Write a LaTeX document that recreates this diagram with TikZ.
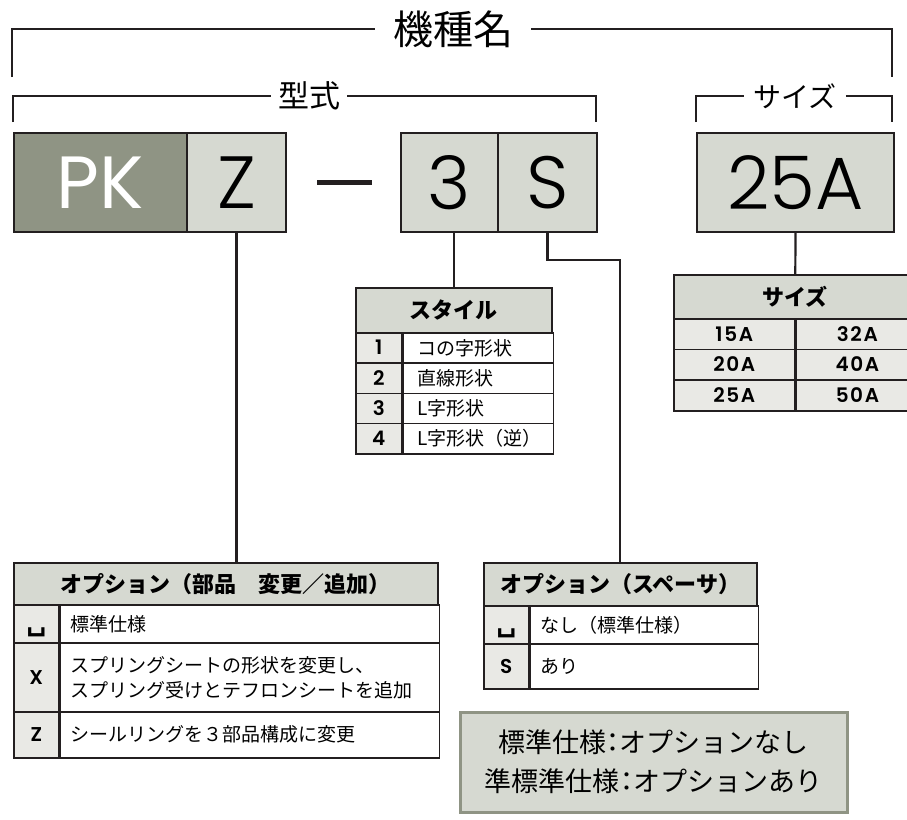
\documentclass[tikz,border=0pt]{standalone}
\usepackage{fontspec}
\usepackage{xcolor}
\setmainfont{Noto Sans CJK JP}
\newfontfamily\codefont{Poppins}[UprightFont=* Light]
\newfontfamily\keyfont{Poppins}[BoldFont=* SemiBold]
\newfontfamily\symfont{DejaVu Sans}
\newcommand{\halfcolon}{{\addfontfeature{RawFeature=+halt}：}}
\usetikzlibrary{positioning}

\definecolor{inkline}{HTML}{231F20}
\definecolor{darkbox}{HTML}{8F9484}
\definecolor{lightbox}{HTML}{D6D9D1}
\definecolor{keyfill}{HTML}{E9E9E5}

\begin{document}
\begin{tikzpicture}[x=1pt,y=-1pt,
	bracket/.style={draw=inkline,line width=1.6pt},
	link/.style={draw=inkline,line width=2.2pt},
	title/.style={inner xsep=#1,inner ysep=0pt},
	codebox/.style={draw=inkline,line width=2pt,rectangle,anchor=north west,minimum height=99pt,inner sep=0pt,font=\codefont\fontsize{74}{74}\selectfont},
	head/.style={draw=inkline,line width=1.6pt,rectangle,anchor=north west,fill=lightbox,inner sep=0pt,font=\bfseries\fontsize{22}{26}\selectfont},
	keycell/.style={draw=inkline,line width=1.6pt,rectangle,anchor=north west,fill=keyfill,inner sep=0pt,text height=14pt,text depth=0pt,font=\keyfont\bfseries\fontsize{20}{24}\selectfont},
	txtcell/.style={draw=inkline,line width=1.6pt,rectangle,fill=white,align=left,inner ysep=0pt,font=\fontsize{19}{25}\selectfont}]
		\useasboundingbox (0,0) rectangle (907,819);

		% draw brackets
		\node (kishu) at (453,29) [title=18pt,font=\fontsize{40}{46}\selectfont] {機種名};
		\coordinate (kishu-l) at (12,77);
		\coordinate (kishu-r) at (892,77);
		\draw[bracket] (kishu-l) |- (kishu.west);
		\draw[bracket] (kishu.east) -| (kishu-r);

		\node (keishiki) at (309,96) [title=7pt,font=\fontsize{31}{36}\selectfont] {型式};
		\coordinate (keishiki-l) at (13,122);
		\coordinate (keishiki-r) at (596,122);
		\draw[bracket] (keishiki-l) |- (keishiki.west);
		\draw[bracket] (keishiki.east) -| (keishiki-r);

		\node (saizu) at (795,96) [title=9pt,font=\fontsize{28}{32}\selectfont] {サイズ};
		\coordinate (saizu-l) at (696,122);
		\coordinate (saizu-r) at (892,122);
		\draw[bracket] (saizu-l) |- (saizu.west);
		\draw[bracket] (saizu.east) -| (saizu-r);

		% draw code boxes
		\node (pk) at (13,132) [codebox,fill=darkbox,minimum width=173pt,text=white,font=\keyfont\fontsize{74}{74}\selectfont] {PK};
		\node (z) at (186,132) [codebox,fill=lightbox,minimum width=99pt] {Z};
		\node (dash) at (344.5,182) [fill=inkline,minimum width=55pt,minimum height=5pt,inner sep=0pt] {};
		\node (n3) at (400,132) [codebox,fill=lightbox,minimum width=97pt] {3};
		\node (s) at (497,132) [codebox,fill=lightbox,minimum width=99pt] {S};
		\node (a25) at (696,132) [codebox,fill=lightbox,minimum width=197pt] {25A};

		% draw style table
		\node (st-h) at (355,287) [head,minimum width=196pt,minimum height=45pt] {スタイル};
		\foreach \n/\t [count=\i] in {1/コの字形状,2/直線形状,3/L字形状,4/L字形状（逆）}{
			\node (st-k\i) at (355,{332+30.25*(\i-1)}) [keycell,minimum width=46pt,minimum height=30.25pt] {\n};
			\node (st-t\i) [txtcell,right=0pt of st-k\i,text width=122pt,inner xsep=14pt,minimum height=30.25pt] {\t};
		}

		% draw size table
		\node (sz-h) at (673,274) [head,minimum width=243pt,minimum height=44pt] {サイズ};
		\foreach \a/\b [count=\i] in {15A/32A,20A/40A,25A/50A}{
			\node (sz-a\i) at (673,{318+30.67*(\i-1)}) [keycell,minimum width=121pt,minimum height=30.67pt] {\addfontfeature{LetterSpace=8}\a};
			\node (sz-b\i) [keycell,right=0pt of sz-a\i,minimum width=122pt,minimum height=30.67pt] {\addfontfeature{LetterSpace=8}\b};
		}

		% draw option table (parts)
		\node (o1-h) at (13,562) [head,minimum width=424pt,minimum height=42pt] {オプション（部品　変更／追加）};
		\node (o1-k1) at (13,604) [keycell,minimum width=45pt,minimum height=38pt] {\symfont\fontsize{28}{28}\selectfont ␣};
		\node (o1-t1) [txtcell,right=0pt of o1-k1,text width=359pt,inner xsep=10pt,minimum height=38pt] {標準仕様};
		\node (o1-k2) at (13,642) [keycell,minimum width=45pt,minimum height=69pt] {X};
		\node (o1-t2) [txtcell,right=0pt of o1-k2,text width=359pt,inner xsep=10pt,minimum height=69pt] {スプリングシートの形状を変更し、\\スプリング受けとテフロンシートを追加};
		\node (o1-k3) at (13,711) [keycell,minimum width=45pt,minimum height=46pt] {Z};
		\node (o1-t3) [txtcell,right=0pt of o1-k3,text width=359pt,inner xsep=10pt,minimum height=46pt] {シールリングを３部品構成に変更};

		% draw option table (spacer)
		\node (o2-h) at (483,562) [head,minimum width=273pt,minimum height=43pt] {オプション（スペーサ）};
		\node (o2-k1) at (483,605) [keycell,minimum width=45pt,minimum height=38pt] {\symfont\fontsize{28}{28}\selectfont ␣};
		\node (o2-t1) [txtcell,right=0pt of o2-k1,text width=208pt,inner xsep=10pt,minimum height=38pt] {なし（標準仕様）};
		\node (o2-k2) at (483,643) [keycell,minimum width=45pt,minimum height=45pt] {S};
		\node (o2-t2) [txtcell,right=0pt of o2-k2,text width=208pt,inner xsep=10pt,minimum height=45pt] {あり};

		% draw note
		\node (note) at (653.5,762) [draw=darkbox,line width=3pt,fill=lightbox,minimum width=387pt,minimum height=100pt,align=center,font=\fontsize{27}{39}\selectfont] {標準仕様\halfcolon オプションなし\\準標準仕様\halfcolon オプションあり};

		% draw lines from code boxes to tables
		\draw[link] (z.south) -- (z.south |- o1-h.north);
		\draw[link] (st-h.north |- n3.south) -- (st-h.north);
		\draw[link] (s.south) -- ++(0,27) -| (o2-h.north);
		\draw[link] (a25.south) -- (sz-h.north);
	\end{tikzpicture}
\end{document}
